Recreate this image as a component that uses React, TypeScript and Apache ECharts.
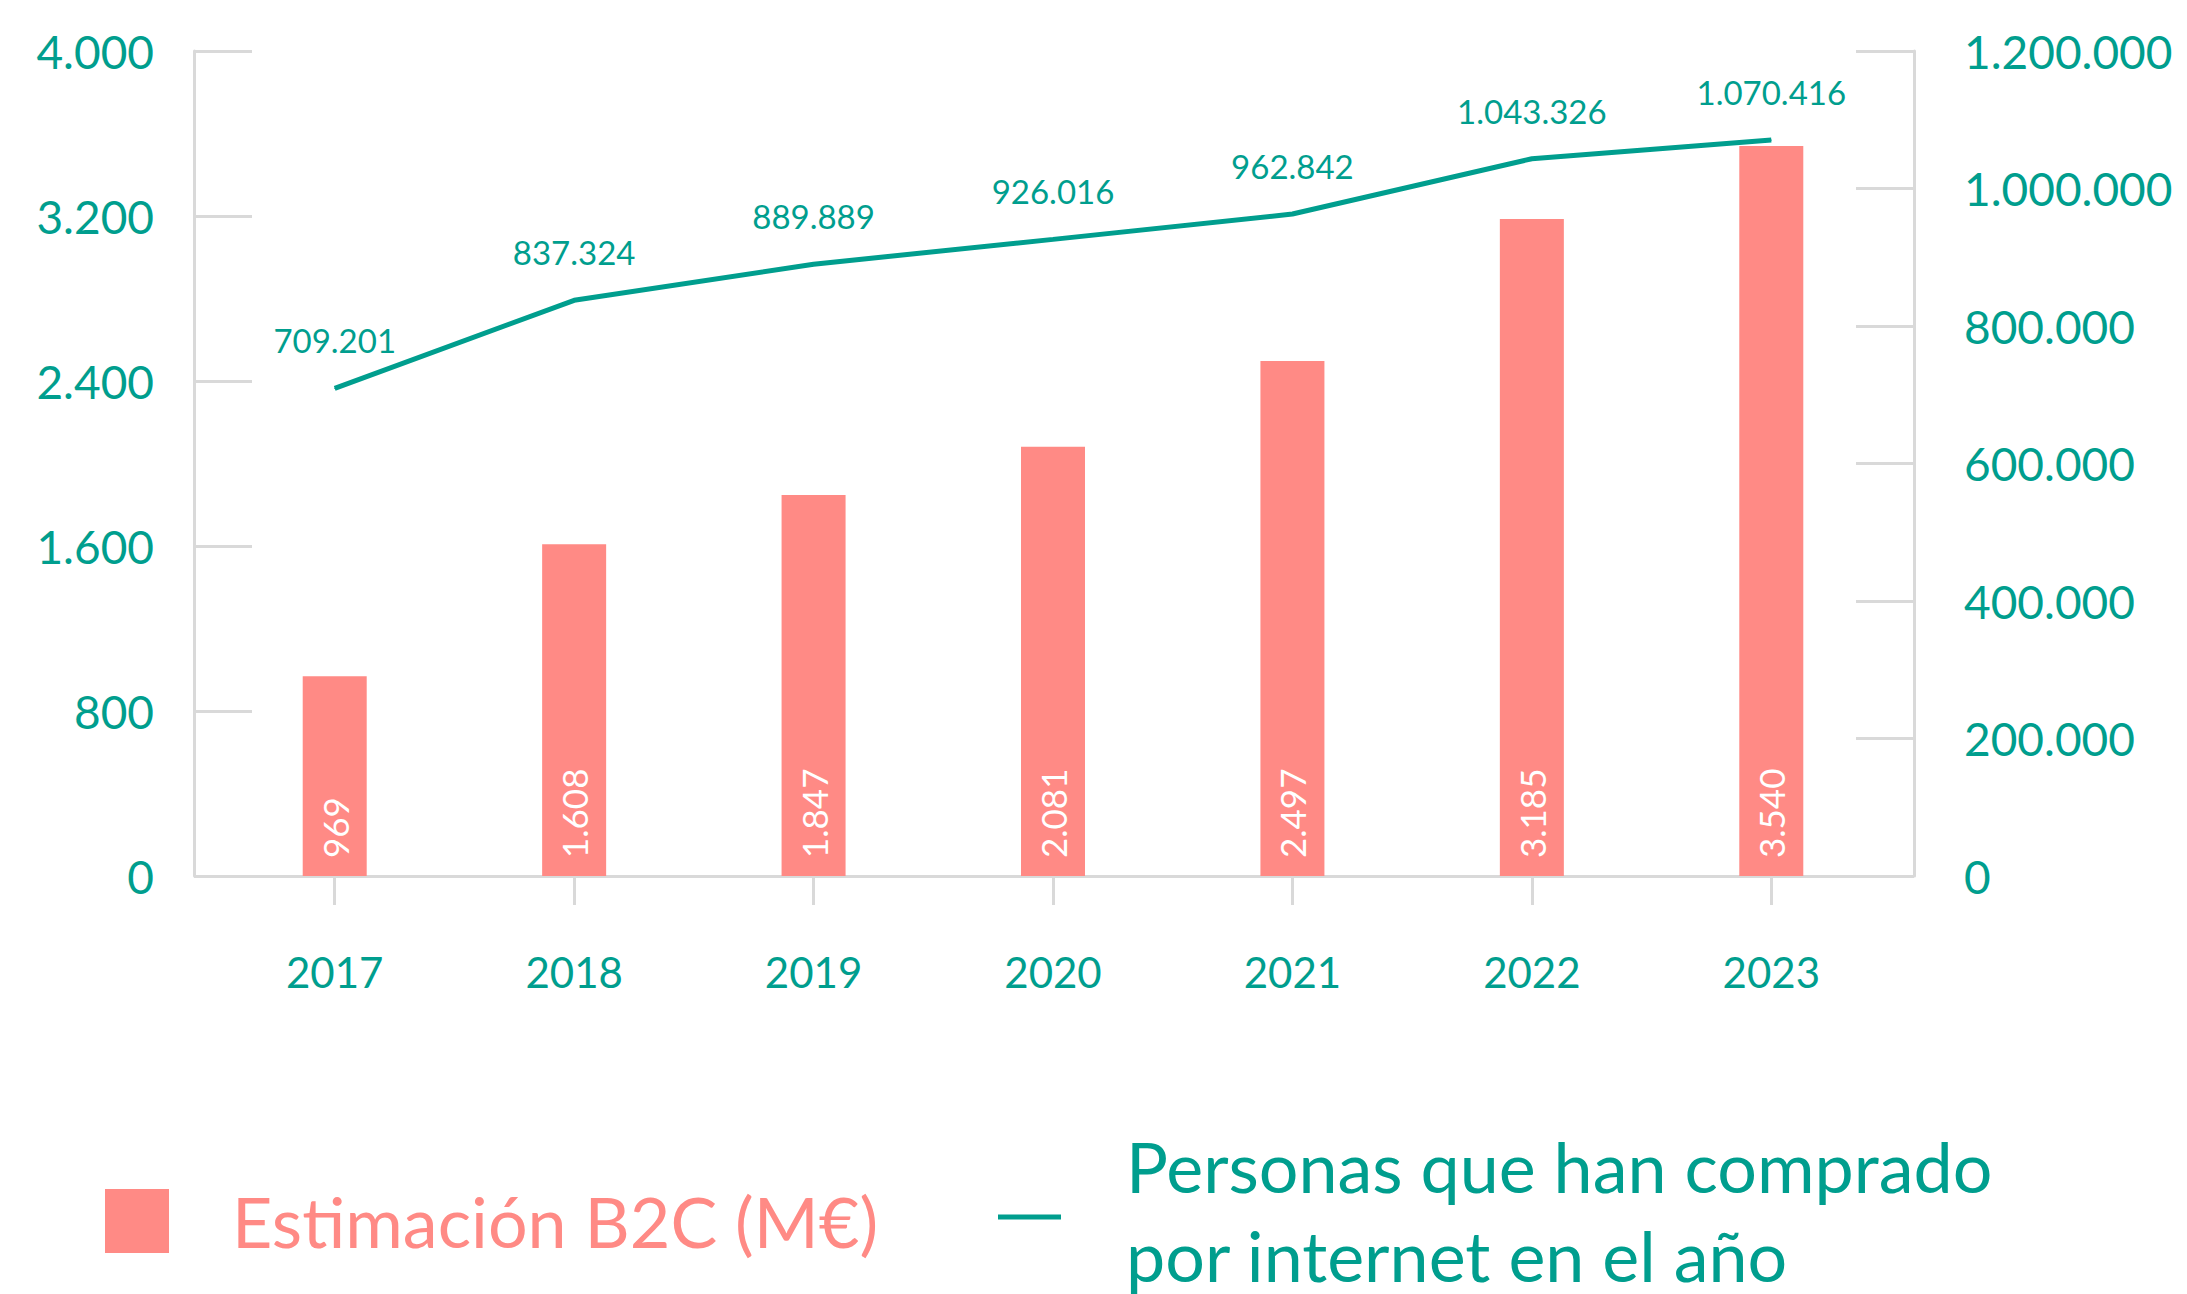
import React, { useEffect, useRef } from "react";
import * as echarts from "echarts";

const categories = ["2017", "2018", "2019", "2020", "2021", "2022", "2023"];
const b2cValues = [969, 1608, 1847, 2081, 2497, 3185, 3540];
const buyersValues = [709201, 837324, 889889, 926016, 962842, 1043326, 1070416];
const barName = "Estimación B2C (M€)";
const lineName = "Personas que han comprado por internet en el año";
const lineLegendLines = ["Personas que han comprado", "por internet en el año"];

const TEAL = "#009E8E";
const SALMON = "#FF8A85";
const GRAY = "#D9D9D9";
const FONT = "Lato";

const fmt = (v: number) => String(Math.round(v)).replace(/\B(?=(\d{3})+(?!\d))/g, ".");

export default function App() {
  const ref = useRef<HTMLDivElement>(null);
  useEffect(() => {
    if (!ref.current) return;
    const chart = echarts.init(ref.current, null, { renderer: "svg" });
    chart.setOption({
      animation: false,
      backgroundColor: "#ffffff",
      textStyle: { fontFamily: FONT },
      grid: { left: 215, right: 296, top: 51, bottom: 418, containLabel: false },
      legend: [
        {
          data: [barName],
          left: 105,
          top: 1175,
          padding: 0,
          itemWidth: 64,
          itemHeight: 64,
          icon: "rect",
          selectedMode: false,
          textStyle: {
            color: SALMON,
            fontSize: 70,
            fontFamily: FONT,
            lineHeight: 88,
            padding: [4, 0, 0, 58],
          },
        },
        {
          data: [lineName],
          left: 998,
          top: 1131,
          padding: 0,
          itemWidth: 63,
          itemHeight: 5,
          icon: "rect",
          selectedMode: false,
          formatter: () => `{a|${lineLegendLines[0]}}\n{b|${lineLegendLines[1]}}`,
          textStyle: {
            color: TEAL,
            fontSize: 70,
            fontFamily: FONT,
            padding: [0, 0, 0, 60],
            rich: {
              a: { color: TEAL, fontSize: 70, fontFamily: FONT, lineHeight: 76 },
              b: { color: TEAL, fontSize: 70, fontFamily: FONT, lineHeight: 102 },
            },
          },
        },
      ],
      xAxis: {
        type: "category",
        data: categories,
        axisLine: { show: true, lineStyle: { color: GRAY, width: 3 } },
        axisTick: { show: true, alignWithLabel: true, length: 29, lineStyle: { color: GRAY, width: 3 } },
        axisLabel: { color: TEAL, fontSize: 42, fontFamily: FONT, margin: 75 },
        splitLine: { show: false },
      },
      yAxis: [
        {
          type: "value",
          position: "left",
          offset: 21,
          min: 0,
          max: 4000,
          interval: 800,
          axisLine: { show: true, lineStyle: { color: GRAY, width: 3 } },
          axisTick: { show: true, inside: true, length: 58, lineStyle: { color: GRAY, width: 3 } },
          axisLabel: { color: TEAL, fontSize: 46, fontFamily: FONT, margin: 40, formatter: (v: number) => fmt(v) },
          splitLine: { show: false },
        },
        {
          type: "value",
          position: "right",
          offset: 23,
          min: 0,
          max: 1200000,
          interval: 200000,
          axisLine: { show: true, lineStyle: { color: GRAY, width: 3 } },
          axisTick: { show: true, inside: true, length: 58, lineStyle: { color: GRAY, width: 3 } },
          axisLabel: { color: TEAL, fontSize: 46, fontFamily: FONT, margin: 50, formatter: (v: number) => fmt(v) },
          splitLine: { show: false },
        },
      ],
      series: [
        {
          name: barName,
          type: "bar",
          data: b2cValues,
          barWidth: 64,
          itemStyle: { color: SALMON },
          label: {
            show: true,
            position: "insideBottom",
            distance: 18,
            rotate: 90,
            align: "left",
            verticalAlign: "middle",
            color: "#ffffff",
            fontSize: 35,
            fontFamily: FONT,
            formatter: (p: any) => fmt(p.value),
          },
        },
        {
          name: lineName,
          type: "line",
          yAxisIndex: 1,
          data: buyersValues,
          symbol: "circle",
          symbolSize: 1,
          showSymbol: true,
          itemStyle: { color: TEAL },
          lineStyle: { color: TEAL, width: 5 },
          label: {
            show: true,
            position: "top",
            distance: 31,
            color: TEAL,
            fontSize: 33,
            fontFamily: FONT,
            formatter: (p: any) => fmt(p.value),
          },
          z: 3,
        },
      ],
    });
    return () => chart.dispose();
  }, []);
  return (
    <div
      ref={ref}
      style={{ position: "absolute", left: 0, top: 0, width: 2187, height: 1294 }}
    />
  );
}
